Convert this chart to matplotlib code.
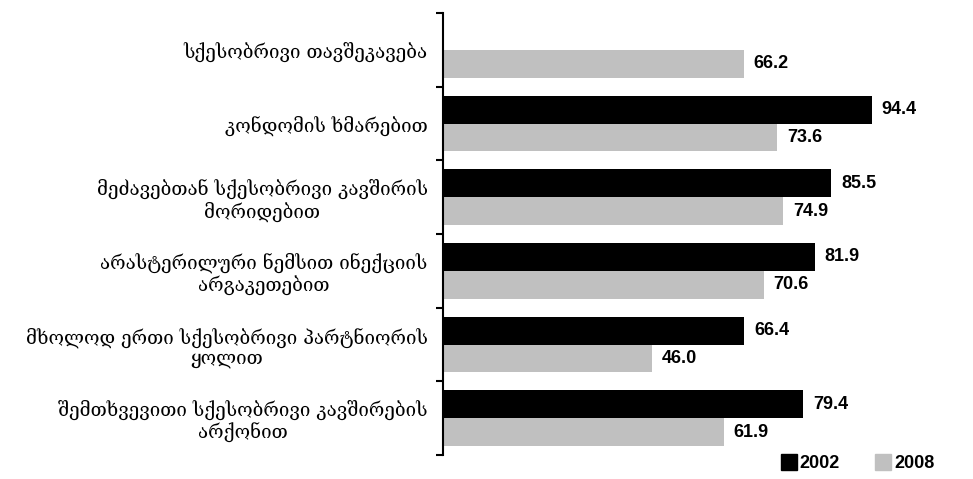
import numpy as np
import matplotlib
matplotlib.use("Agg")
import matplotlib.pyplot as plt
from matplotlib.lines import Line2D

categories = [
    "სქესობრივი თავშეკავება",
    "კონდომის ხმარებით",
    "მეძავებთან სქესობრივი კავშირის\nმორიდებით",
    "არასტერილური ნემსით ინექციის\nარგაკეთებით",
    "მხოლოდ ერთი სქესობრივი პარტნიორის\nყოლით",
    "შემთხვევითი სქესობრივი კავშირების\nარქონით",
]
values_2002 = [np.nan, 94.4, 85.5, 81.9, 66.4, 79.4]
values_2008 = [66.2, 73.6, 74.9, 70.6, 46.0, 61.9]
years = ["2002", "2008"]

fig = plt.figure(figsize=(9.73, 4.79), dpi=100)
ax = fig.add_axes([443 / 973, 1 - 455 / 479, 454 / 973, 442 / 479])

y = np.arange(len(categories))
h = 0.38
ax.barh(y - h / 2, values_2002, height=h, color="black")
ax.barh(y + h / 2, values_2008, height=h, color="#c0c0c0")

for i in range(len(categories)):
    for val, off in ((values_2002[i], -h / 2), (values_2008[i], h / 2)):
        if np.isnan(val):
            continue
        ax.annotate(f"{val:.1f}", (val, y[i] + off), xytext=(7, 0),
                    textcoords="offset points", va="center", ha="left",
                    fontsize=13, fontweight="bold", family="Liberation Sans")

ax.set_xlim(0, 100)
ax.set_ylim(len(categories) - 0.5, -0.5)
ax.set_yticks(y)
ax.set_yticklabels(categories, family="DejaVu Serif", fontsize=13.5,
                   multialignment="center", linespacing=1.15)
ax.set_yticks(np.arange(-0.5, len(categories)), minor=True)
ax.tick_params(axis="y", which="major", length=0, pad=11)
ax.tick_params(axis="y", which="minor", length=5, width=1.5)
ax.set_xticks([])
for s in ["top", "right", "bottom"]:
    ax.spines[s].set_visible(False)
ax.spines["left"].set_linewidth(1.5)

handles = [Line2D([], [], ls="none", marker="s", markersize=11, color=c)
           for c in ("black", "#c0c0c0")]
fig.legend(handles, years, loc="lower right", bbox_to_anchor=(0.977, -0.02),
           ncol=2, frameon=False, handlelength=0.8,
           handletextpad=0.2, columnspacing=2.0,
           prop={"family": "Liberation Sans", "weight": "bold", "size": 13})

fig.savefig("out.png", dpi=100)
